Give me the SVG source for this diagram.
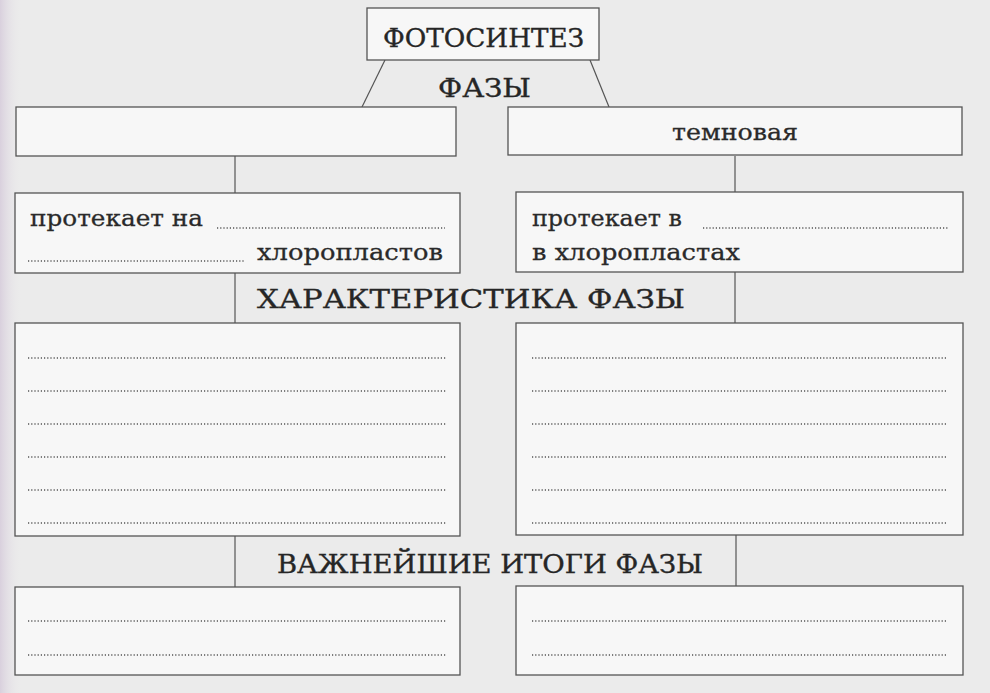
<svg xmlns="http://www.w3.org/2000/svg" width="990" height="693" viewBox="0 0 990 693">
<defs>
<linearGradient id="edge" x1="0" y1="0" x2="1" y2="0">
<stop offset="0" stop-color="#d9d0dd"/>
<stop offset="1" stop-color="#ececec" stop-opacity="0"/>
</linearGradient>
<style>
.bg{fill:#ebebeb}
.box{fill:#f7f7f7;stroke:#555;stroke-width:1.3}
.ln{stroke:#555;stroke-width:1.2;fill:none}
.dot{stroke:#555;stroke-width:1.3;stroke-dasharray:1.2 2;fill:none}
.cap{font-family:"DejaVu Serif","Liberation Serif",serif;font-size:26px;fill:#262626;stroke:#262626;stroke-width:0.35}
.low{font-family:"DejaVu Serif","Liberation Serif",serif;font-size:23px;fill:#2a2a2a;stroke:#2a2a2a;stroke-width:0.3}
</style>
</defs>
<rect class="bg" x="0" y="0" width="990" height="693"/>
<rect x="0" y="0" width="22" height="693" fill="url(#edge)"/>

<g id="connectors">
<line class="ln" x1="385" y1="60" x2="362" y2="107"/>
<line class="ln" x1="590" y1="60" x2="609" y2="107"/>
<line class="ln" x1="235" y1="156" x2="235" y2="193"/>
<line class="ln" x1="735" y1="156" x2="735" y2="192"/>
<line class="ln" x1="235" y1="273" x2="235" y2="323"/>
<line class="ln" x1="735" y1="272" x2="735" y2="323"/>
<line class="ln" x1="235" y1="536" x2="235" y2="587"/>
<line class="ln" x1="736" y1="535" x2="736" y2="586"/>
</g>

<g id="photosynthesis">
<rect class="box" x="367" y="8" width="232" height="52"/>
<text class="cap" x="383" y="47" textLength="201" lengthAdjust="spacingAndGlyphs">ФОТОСИНТЕЗ</text>
</g>

<g id="label-phases">
<text class="cap" x="438" y="97" textLength="93" lengthAdjust="spacingAndGlyphs">ФАЗЫ</text>
</g>

<g id="phase-light">
<rect class="box" x="16" y="107" width="440" height="49"/>
</g>

<g id="phase-dark">
<rect class="box" x="508" y="107" width="454" height="48"/>
<text class="low" x="672" y="140" textLength="126" lengthAdjust="spacingAndGlyphs">темновая</text>
</g>

<g id="place-light">
<rect class="box" x="15" y="193" width="445" height="80"/>
<text class="low" x="30" y="226" textLength="173" lengthAdjust="spacingAndGlyphs">протекает на</text>
<line class="dot" x1="217" y1="228" x2="445" y2="228"/>
<line class="dot" x1="28" y1="261" x2="244" y2="261"/>
<text class="low" x="257" y="260" textLength="186" lengthAdjust="spacingAndGlyphs">хлоропластов</text>
</g>

<g id="place-dark">
<rect class="box" x="516" y="192" width="447" height="80"/>
<text class="low" x="532" y="226" textLength="150" lengthAdjust="spacingAndGlyphs">протекает в</text>
<line class="dot" x1="703" y1="228" x2="948" y2="228"/>
<text class="low" x="532" y="260" textLength="208" lengthAdjust="spacingAndGlyphs">в хлоропластах</text>
</g>

<g id="label-characteristics">
<text class="cap" x="257" y="308" textLength="428" lengthAdjust="spacingAndGlyphs">ХАРАКТЕРИСТИКА ФАЗЫ</text>
</g>

<g id="char-light">
<rect class="box" x="15" y="323" width="445" height="213"/>
<line class="dot" x1="28" y1="358" x2="447" y2="358"/>
<line class="dot" x1="28" y1="391" x2="447" y2="391"/>
<line class="dot" x1="28" y1="424" x2="447" y2="424"/>
<line class="dot" x1="28" y1="457" x2="447" y2="457"/>
<line class="dot" x1="28" y1="490" x2="447" y2="490"/>
<line class="dot" x1="28" y1="523" x2="447" y2="523"/>
</g>

<g id="char-dark">
<rect class="box" x="516" y="323" width="447" height="212"/>
<line class="dot" x1="532" y1="358" x2="948" y2="358"/>
<line class="dot" x1="532" y1="391" x2="948" y2="391"/>
<line class="dot" x1="532" y1="424" x2="948" y2="424"/>
<line class="dot" x1="532" y1="457" x2="948" y2="457"/>
<line class="dot" x1="532" y1="490" x2="948" y2="490"/>
<line class="dot" x1="532" y1="523" x2="948" y2="523"/>
</g>

<g id="label-results">
<text class="cap" x="277" y="573" textLength="426" lengthAdjust="spacingAndGlyphs">ВАЖНЕЙШИЕ ИТОГИ ФАЗЫ</text>
</g>

<g id="result-light">
<rect class="box" x="15" y="587" width="445" height="88"/>
<line class="dot" x1="28" y1="621" x2="447" y2="621"/>
<line class="dot" x1="28" y1="655" x2="447" y2="655"/>
</g>

<g id="result-dark">
<rect class="box" x="516" y="586" width="447" height="89"/>
<line class="dot" x1="532" y1="621" x2="948" y2="621"/>
<line class="dot" x1="532" y1="655" x2="948" y2="655"/>
</g>
</svg>
